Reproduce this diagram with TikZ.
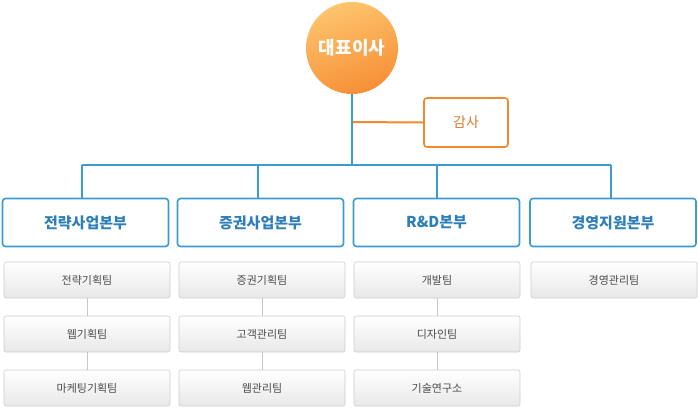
\documentclass[tikz,border=0pt]{standalone}
\usepackage{fontspec}
\setmainfont{Noto Sans CJK KR}
\begin{document}
\begin{tikzpicture}[x=1pt,y=-1pt,
  blueline/.style={draw=lineblue,line width=2pt},
  divbox/.style={draw=lineblue,line width=1.6pt,rounded corners=3pt,fill=white,minimum width=166pt,minimum height=48pt,text=divtext,font=\fontsize{15}{15}\selectfont},
  teambox/.style={draw=gray!40,line width=0.6pt,rounded corners=2pt,top color=white,bottom color=gray!18,minimum width=166pt,minimum height=36pt,text=black!70,font=\fontsize{11}{11}\selectfont},
  teamline/.style={draw=gray!45,line width=1pt}]
\definecolor{lineblue}{HTML}{3A9BD0}
\definecolor{divtext}{HTML}{2E7FB8}
\definecolor{orangeline}{HTML}{F08A30}
\definecolor{ctop}{HTML}{FDC46C}
\definecolor{cbot}{HTML}{F68F36}
\useasboundingbox (0,0) rectangle (698,408);
\node[circle,minimum size=92pt,inner sep=0pt,top color=ctop,bottom color=cbot,shading angle=20,text=white,font=\fontsize{18}{18}\selectfont\bfseries] (ceo) at (352,48) {대표이사};
\node[draw=orangeline,line width=1.6pt,rounded corners=3pt,minimum width=84pt,minimum height=49pt,text=orangeline!90!black,font=\fontsize{14}{14}\selectfont] (audit) at (466,122.5) {감사};
\coordinate (j) at (352,165);
\coordinate (a) at (352,122);
\draw[draw=orangeline,line width=2pt] (a) -- (audit.west);
\draw[blueline] (ceo.south) -- (j);
\node[divbox] (d1) at (85.5,222.5) {\textbf{전략사업본부}};
\node[divbox] (d2) at (260.5,222.5) {\textbf{증권사업본부}};
\node[divbox] (d3) at (436.5,222.5) {\textbf{R\&D본부}};
\node[divbox] (d4) at (613,222.5) {\textbf{경영지원본부}};
\coordinate (b1) at (82,165);
\coordinate (b4) at (611,165);
\draw[blueline] (b1) -- (b4);
\draw[blueline] (b1) -- (b1 |- d1.north);
\draw[blueline] (258,165) -- (258,198);
\draw[blueline] (437,165) -- (437,198);
\draw[blueline] (b4) -- (b4 |- d4.north);
\node[teambox] (t11) at (87,280) {전략기획팀};
\node[teambox] (t12) at (87,334) {웹기획팀};
\node[teambox] (t13) at (87,388) {마케팅기획팀};
\node[teambox] (t21) at (262,280) {증권기획팀};
\node[teambox] (t22) at (262,334) {고객관리팀};
\node[teambox] (t23) at (262,388) {웹관리팀};
\node[teambox] (t31) at (437,280) {개발팀};
\node[teambox] (t32) at (437,334) {디자인팀};
\node[teambox] (t33) at (437,388) {기술연구소};
\node[teambox] (t41) at (614,280) {경영관리팀};
\foreach \c in {1,2,3}{
  \draw[teamline] (t\c1.south) -- (t\c2.north);
  \draw[teamline] (t\c2.south) -- (t\c3.north);
}
\end{tikzpicture}
\end{document}
